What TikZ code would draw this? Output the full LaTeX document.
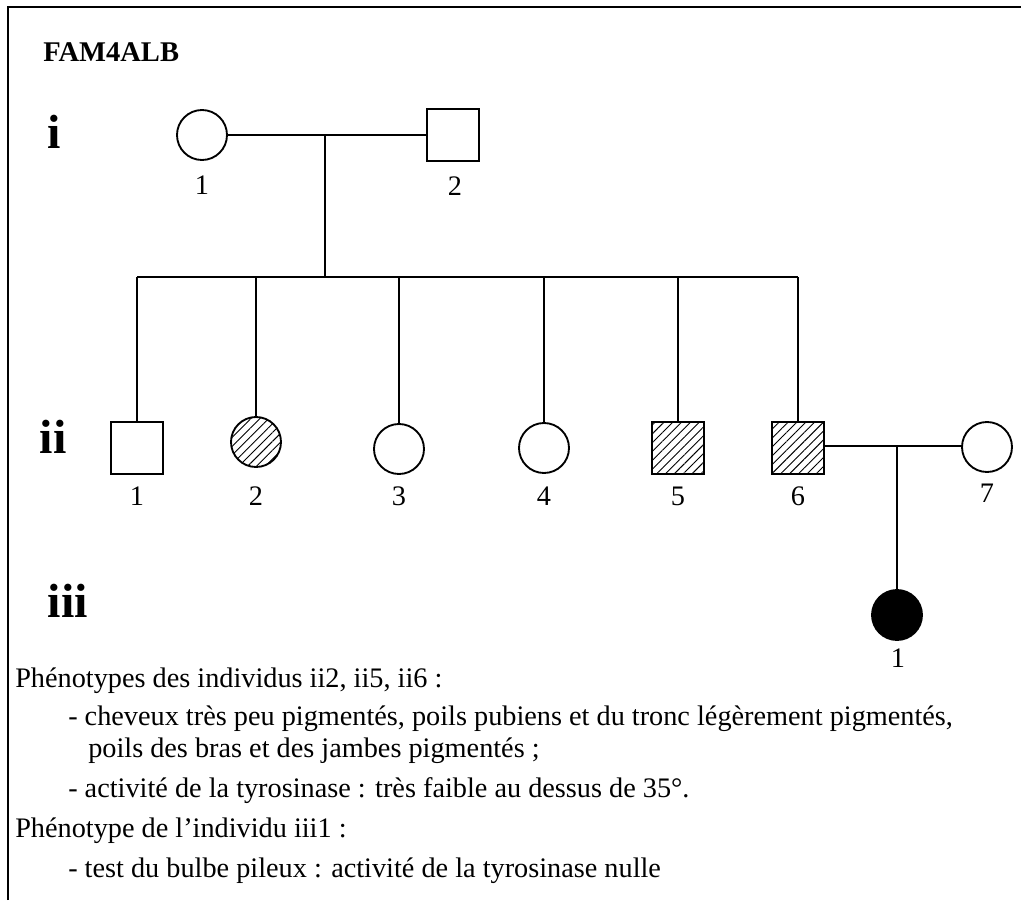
\documentclass[tikz,border=0pt]{standalone}
\usepackage{fontspec}
\setmainfont{Liberation Serif}
\usetikzlibrary{patterns.meta,calc}
\newcommand{\txtsz}{\fontsize{21.2}{25}\selectfont}
\newcommand{\gensz}{\fontsize{36}{40}\selectfont\bfseries}

\begin{document}
\begin{tikzpicture}[
  x=0.75pt, y=-0.75pt,
  lk/.style    ={line width=1.4pt},
  ind/.style   ={draw, line width=1.4pt, inner sep=0pt, outer sep=0pt},
  male/.style  ={ind, rectangle, minimum size=39pt},
  fem/.style   ={ind, circle, minimum size=37.5pt},
  hatch/.style ={pattern={Lines[angle=45,distance=4.7pt,line width=0.7pt]}},
  maleaff/.style={male, hatch},
  femaff/.style ={fem, hatch},
  femsick/.style={fem, fill=black},
  num/.style   ={font=\txtsz, inner sep=0pt},
  gen/.style   ={font=\gensz, inner sep=0pt, anchor=base},
  txt/.style   ={font=\txtsz, inner sep=0pt, anchor=base west}]

\useasboundingbox (0,0) rectangle (1021,900);
\draw[lk] (8,900) -- (8,7) -- (1021,7);

\node[txt, font=\fontsize{21.4}{25}\selectfont\bfseries] (fam) at (43,61) {FAM4ALB};
\node[gen] (gi)   at (54,148) {i};
\node[gen] (gii)  at (53,453) {ii};
\node[gen] (giii) at (68,617) {iii};

\node[fem]  (i1) at (202,135) {};
\node[male] (i2) at (453,135) {};
\node[num] (ni1) at (202,185) {1};
\node[num] (ni2) at (455,186) {2};
\draw[lk] (i1.east) -- (i2.west);
\coordinate (ci) at (325,135);
\coordinate (sib) at (325,277);
\draw[lk] (ci) -- (sib);

\foreach \n/\x/\y/\sty in {1/137/448/male, 2/256/442/femaff, 3/399/449/fem,
                           4/544/448/fem, 5/678/448/maleaff, 6/798/448/maleaff}{
  \node[\sty] (ii\n) at (\x,\y) {};
  \node[num] (nii\n) at (\x,496) {\n};
  \draw[lk] (ii\n.north |- sib) -- (ii\n.north);
}
\draw[lk] (ii1.north |- sib) -- (ii6.north |- sib);

\node[fem] (ii7) at (987,447) {};
\node[num] (nii7) at (987,493) {7};
\coordinate (cii) at (897,446);
\draw[lk] (ii6.east |- cii) -- (ii7.west |- cii);

\node[femsick] (iii1) at (897,615) {};
\node[num] (niii1) at (898,658) {1};
\draw[lk] (cii) -- (iii1.north);

\node[txt] (ph1) at (15,687) {Phénotypes des individus ii2, ii5, ii6 :};
\node[txt] (ph2) at (68,725) {- cheveux très peu pigmentés, poils pubiens et du tronc légèrement pigmentés,};
\node[txt] (ph3) at (88,757) {poils des bras et des jambes pigmentés ;};
\node[txt] (ph4) at (68,797) {- activité de la tyrosinase : très faible au dessus de 35°.};
\node[txt] (ph5) at (15,837) {Phénotype de l\char"0027 individu iii1 :};
\node[txt] (ph6) at (68,877) {- test du bulbe pileux : activité de la tyrosinase nulle};
\end{tikzpicture}
\end{document}
